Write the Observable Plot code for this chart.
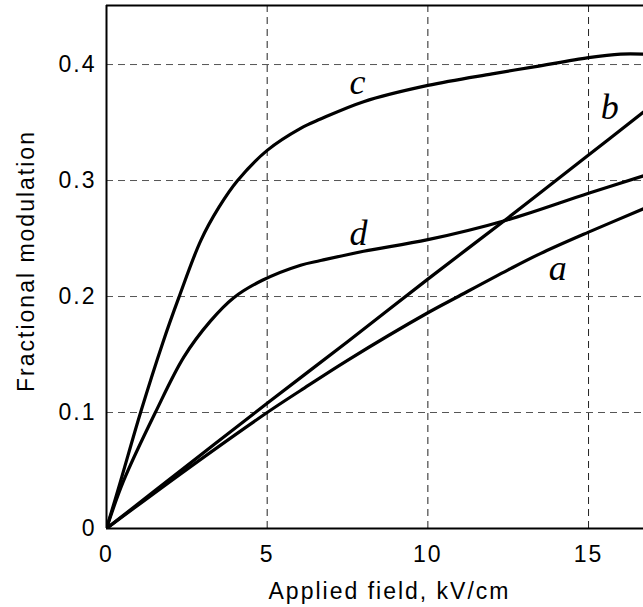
<!DOCTYPE html>
<html>
<head>
<meta charset="utf-8">
<script src="https://cdn.jsdelivr.net/npm/d3@7"></script>
<script src="https://cdn.jsdelivr.net/npm/@observablehq/plot@0.6"></script>
<style>
  html, body { margin: 0; padding: 0; background: #fff; }
  #chart svg { display: block; }
  #chart svg .ax text { letter-spacing: 2px; }
</style>
</head>
<body>
<div id="chart"></div>
<script>
// ---- data ----
const aX = [0, 2.5, 5, 6.04, 7.5, 10, 10.9, 12.5, 13.5, 15, 16.71];
const aY = [0, 0.051, 0.1, 0.119, 0.145, 0.186, 0.1994, 0.223, 0.237, 0.2555, 0.2756];

const bX = [0, 2.5, 5, 7.5, 10, 12.5, 15, 16.71];
const bY = [0, 0.054, 0.108, 0.161, 0.215, 0.268, 0.322, 0.359];

const cX = [0, 0.44, 1.06, 1.75, 2.25, 2.93, 3.5, 4.08, 5, 6.04, 6.66, 8, 10, 12, 13.3, 15, 16, 16.71];
const cY = [0, 0.041, 0.1, 0.16, 0.199, 0.248, 0.277, 0.3, 0.326, 0.345, 0.353, 0.368, 0.382, 0.392, 0.398, 0.406, 0.409, 0.409];

const dX = [0, 0.53, 1.52, 2.41, 3.24, 3.96, 4.85, 6.04, 6.66, 8, 10, 12.47, 15, 16.71];
const dY = [0, 0.041, 0.1, 0.148, 0.179, 0.199, 0.214, 0.227, 0.231, 0.239, 0.249, 0.266, 0.289, 0.304];

const curveNames = ["a", "b", "c", "d"];
const labelX = [14.04, 15.66, 7.81, 7.84];
const labelY = [0.214, 0.353, 0.375, 0.244];

const xTicks = [0, 5, 10, 15];
const yTicks = [0, 0.1, 0.2, 0.3, 0.4];
const xGrid = [5, 10, 15];
const yGrid = [0.1, 0.2, 0.3, 0.4];
const xDomain = [0, 16.71];
const yDomain = [0, 0.4509];
const xLabel = "Applied field, kV/cm";
const yLabel = "Fractional modulation";

// ---- build table ----
const series = [[aX, aY], [bX, bY], [cX, cY], [dX, dY]];
const rows = series.flatMap(([xs, ys], k) => xs.map((x, i) => ({curve: curveNames[k], x, y: ys[i]})));
const labels = curveNames.map((n, i) => ({name: n, x: labelX[i], y: labelY[i]}));

const sans = "'Liberation Sans', Arial, sans-serif";

const chart = Plot.plot({
  width: 643,
  height: 607,
  marginLeft: 106,
  marginRight: 0,
  marginTop: 5,
  marginBottom: 79,
  style: {fontFamily: sans, fontSize: "23px", background: "#fff", color: "#000"},
  x: {domain: xDomain, axis: null},
  y: {domain: yDomain, axis: null},
  marks: [
    Plot.ruleX(xGrid, {stroke: "#222", strokeWidth: 1, strokeDasharray: "7,5"}),
    Plot.ruleY(yGrid, {stroke: "#555", strokeWidth: 1, strokeDasharray: "7,5"}),
    Plot.axisX(xTicks, {tickSize: 0, tickPadding: 17, fontSize: 23, className: "ax", label: null, tickFormat: d => String(d)}),
    Plot.axisY(yTicks, {tickSize: 0, tickPadding: 10, fontSize: 23, className: "ax", label: null, tickFormat: d => String(d)}),
    Plot.text([xLabel], {frameAnchor: "bottom", textAnchor: "middle", lineAnchor: "bottom", dy: 70, dx: 14.5, fontSize: 23, className: "ax"}),
    Plot.text([yLabel], {frameAnchor: "left", textAnchor: "middle", lineAnchor: "bottom", rotate: -90, dx: -73, dy: -6, fontSize: 23, className: "ax"}),
    Plot.line(rows, {x: "x", y: "y", z: "curve", curve: "catmull-rom", stroke: "#000", strokeWidth: 3.2, clip: true}),
    Plot.text(labels, {x: "x", y: "y", text: "name", lineAnchor: "bottom", fontFamily: "'Liberation Serif', 'Times New Roman', serif", fontStyle: "italic", fontSize: 36, fill: "#000"}),
    Plot.ruleX([xDomain[0]], {stroke: "#000", strokeWidth: 2}),
    Plot.ruleY([yDomain[0], yDomain[1]], {stroke: "#000", strokeWidth: 2})
  ]
});
document.getElementById("chart").appendChild(chart);
</script>
</body>
</html>
